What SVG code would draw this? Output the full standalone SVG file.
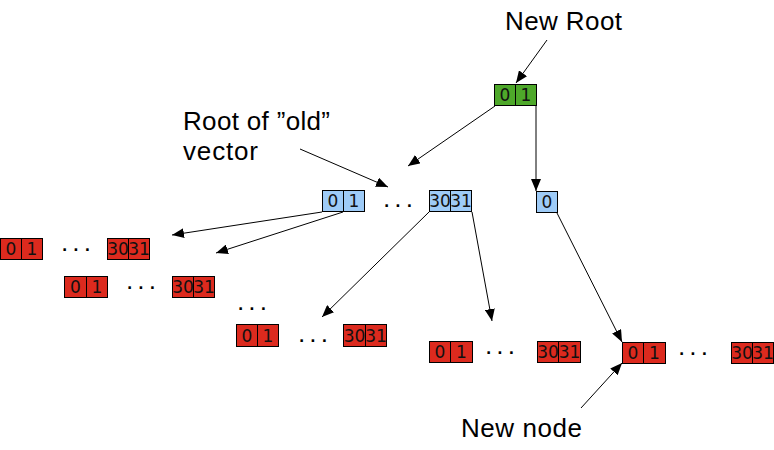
<svg xmlns="http://www.w3.org/2000/svg" width="774" height="450" viewBox="0 0 774 450">
<style>
.g{fill:#4ea82a;stroke:#000;stroke-width:1}
.b{fill:#9ecbf7;stroke:#000;stroke-width:1}
.r{fill:#dc2a1e;stroke:#000;stroke-width:1}
.d{font-family:"DejaVu Sans",sans-serif;font-size:17px;text-anchor:middle;fill:#111}
.dots{font-family:"DejaVu Sans",sans-serif;font-size:14px;fill:#000;letter-spacing:6px;font-weight:bold}
.lbl{font-family:"Liberation Sans",Arial,sans-serif;font-size:26px;fill:#000}
.c{stroke:#000;stroke-width:1;fill:none;marker-end:url(#ah)}
</style>
<defs>
<marker id="ah" viewBox="0 0 12 10" refX="12" refY="5" markerWidth="12" markerHeight="10" markerUnits="userSpaceOnUse" orient="auto">
<path d="M0,0 L12,5 L0,10 Z" fill="#000"/>
</marker>
</defs>
<g id="labels">
<text class="lbl" x="505" y="30" textLength="117">New Root</text>
<text class="lbl" x="183" y="130" textLength="147">Root of ”old”</text>
<text class="lbl" x="183" y="160" textLength="75">vector</text>
<text class="lbl" x="461" y="437" textLength="121">New node</text>
</g>
<g id="new-root">
<rect class="g" x="494.5" y="84.5" width="21" height="21"/><rect class="g" x="515.5" y="84.5" width="21" height="21"/>
<text class="d" x="505" y="101">0</text><text class="d" x="526" y="101">1</text>
</g>
<g id="old-root">
<rect class="b" x="322.5" y="190.5" width="21" height="21"/><rect class="b" x="343.5" y="190.5" width="21" height="21"/>
<text class="d" x="333" y="207">0</text><text class="d" x="354" y="207">1</text>
<text class="dots" x="384" y="207">...</text>
<rect class="b" x="429.5" y="190.5" width="21" height="21"/><rect class="b" x="450.5" y="190.5" width="21" height="21"/>
<text class="d" x="440" y="207">30</text><text class="d" x="461" y="207">31</text>
</g>
<g id="new-inner">
<rect class="b" x="536.5" y="191.5" width="21" height="21"/>
<text class="d" x="547" y="208">0</text>
</g>
<g id="leaf1">
<rect class="r" x="0.5" y="238.5" width="21" height="21"/><rect class="r" x="21.5" y="238.5" width="21" height="21"/>
<text class="d" x="11" y="255">0</text><text class="d" x="32" y="255">1</text>
<text class="dots" x="62" y="251">...</text>
<rect class="r" x="107.5" y="238.5" width="21" height="21"/><rect class="r" x="128.5" y="238.5" width="21" height="21"/>
<text class="d" x="118" y="255">30</text><text class="d" x="139" y="255">31</text>
</g>
<g id="leaf2">
<rect class="r" x="64.5" y="276.5" width="22" height="21"/><rect class="r" x="86.5" y="276.5" width="21" height="21"/>
<text class="d" x="75.5" y="293">0</text><text class="d" x="97" y="293">1</text>
<text class="dots" x="127" y="289">...</text>
<rect class="r" x="172.5" y="276.5" width="21" height="21"/><rect class="r" x="193.5" y="276.5" width="21" height="21"/>
<text class="d" x="183" y="293">30</text><text class="d" x="204" y="293">31</text>
</g>
<g id="dots-mid">
<text class="dots" x="238" y="310">...</text>
</g>
<g id="leaf3">
<rect class="r" x="236.5" y="324.5" width="21" height="22"/><rect class="r" x="257.5" y="324.5" width="21" height="22"/>
<text class="d" x="247" y="342">0</text><text class="d" x="268" y="342">1</text>
<text class="dots" x="299" y="342">...</text>
<rect class="r" x="343.5" y="324.5" width="22" height="22"/><rect class="r" x="365.5" y="324.5" width="21" height="22"/>
<text class="d" x="354.5" y="342">30</text><text class="d" x="376" y="342">31</text>
</g>
<g id="leaf4">
<rect class="r" x="429.5" y="341.5" width="21" height="21"/><rect class="r" x="450.5" y="341.5" width="22" height="21"/>
<text class="d" x="440" y="358">0</text><text class="d" x="461.5" y="358">1</text>
<text class="dots" x="486" y="354">...</text>
<rect class="r" x="537.5" y="341.5" width="21" height="21"/><rect class="r" x="558.5" y="341.5" width="22" height="21"/>
<text class="d" x="548" y="358">30</text><text class="d" x="569.5" y="358">31</text>
</g>
<g id="leaf-new">
<rect class="r" x="622.5" y="342.5" width="21" height="21"/><rect class="r" x="643.5" y="342.5" width="22" height="21"/>
<text class="d" x="633" y="359">0</text><text class="d" x="654.5" y="359">1</text>
<text class="dots" x="679" y="355">...</text>
<rect class="r" x="731.5" y="342.5" width="21" height="21"/><rect class="r" x="752.5" y="342.5" width="21" height="21"/>
<text class="d" x="742" y="359">30</text><text class="d" x="763" y="359">31</text>
</g>
<g id="connectors">
<line class="c" x1="547" y1="40" x2="516" y2="83"/>
<line class="c" x1="495" y1="106" x2="408" y2="166"/>
<line class="c" x1="536" y1="106" x2="536" y2="191"/>
<line class="c" x1="300" y1="149" x2="388" y2="187"/>
<line class="c" x1="322" y1="212" x2="172" y2="235"/>
<line class="c" x1="343" y1="212" x2="216" y2="253"/>
<line class="c" x1="429" y1="212" x2="322" y2="317"/>
<line class="c" x1="472" y1="212" x2="492" y2="321"/>
<line class="c" x1="557" y1="213" x2="622" y2="342"/>
<line class="c" x1="581" y1="408" x2="622" y2="363"/>
</g>
</svg>
